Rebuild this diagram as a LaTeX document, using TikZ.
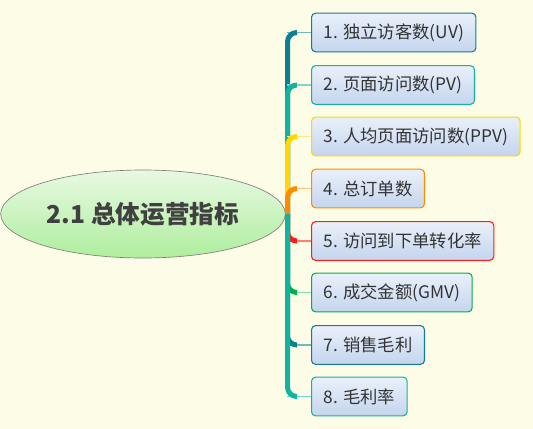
\documentclass[tikz,border=0pt]{standalone}
\usepackage{fontspec}
\setmainfont{Noto Sans CJK SC}
\definecolor{bgcream}{HTML}{FDFCE6}
\definecolor{txtgray}{HTML}{333333}
\definecolor{boxtop}{HTML}{EAF0FA}
\definecolor{boxbot}{HTML}{C4D5EE}
\definecolor{rtop}{HTML}{E8F9E2}
\definecolor{rbot}{HTML}{AEEE9E}
\definecolor{cA}{HTML}{0F7F8F}\definecolor{lA}{HTML}{70B8C2}
\definecolor{cB}{HTML}{14B3A0}\definecolor{lB}{HTML}{80D8CC}
\definecolor{cC}{HTML}{FFD800}\definecolor{lC}{HTML}{FFE680}
\definecolor{cD}{HTML}{FF8C00}\definecolor{lD}{HTML}{FFC27A}
\definecolor{cE}{HTML}{FF1A1A}\definecolor{lE}{HTML}{FF8070}
\definecolor{cF}{HTML}{00B050}\definecolor{lF}{HTML}{80DCA8}
\definecolor{cG}{HTML}{0F7F8F}\definecolor{lG}{HTML}{70B8C2}
\definecolor{cH}{HTML}{14B3A0}\definecolor{lH}{HTML}{70D8C8}
\tikzset{
  topic/.style={draw=#1,line width=0.8pt,rounded corners=3pt,top color=boxtop,bottom color=boxbot,
    minimum height=29pt,inner xsep=9pt,anchor=west,text=txtgray,font=\fontsize{13}{15}\selectfont},
  rootnode/.style={ellipse,draw=gray,line width=0.5pt,top color=rtop,bottom color=rbot,
    minimum width=201pt,minimum height=66pt,text=black!75,font=\fontsize{18.5}{22}\selectfont\bfseries}
}
\usetikzlibrary{shapes.geometric}
\begin{document}
\begin{tikzpicture}[x=0.75pt,y=-0.75pt]
	\fill[bgcream] (0,0) rectangle (533,429);
	\useasboundingbox (0,0) rectangle (533,429);

	% Central topic
	\node[rootnode] (root) at (143,214) {2.1 总体运营指标};
	\coordinate (hub) at (287.5,214);
	\draw[gray,line width=0.6pt] (root.east) -- (hub);

	% Sub-topics
	\foreach \i/\yy/\col/\lite/\txt in {1/32.5/cA/lA/{1. 独立访客数(UV)},2/85/cB/lB/{2. 页面访问数(PV)},
		3/136.5/cC/lC/{3. 人均页面访问数(PPV)},4/188.5/cD/lD/{4. 总订单数},
		5/241/cE/lE/{5. 访问到下单转化率},6/292.5/cF/lF/{6. 成交金额(GMV)},
		7/345/cG/lG/{7. 销售毛利},8/396.5/cH/lH/{8. 毛利率}}
	{
		\node[topic=\col] (b\i) at (311,\yy) {\txt};
		\draw[\lite,line width=1.4pt] ([xshift=-18pt]b\i.west) -- (b\i.west);
		\draw[\col,line width=3.75pt,rounded corners=7pt] (hub) |- ([xshift=-10.6pt]b\i.west);
	}
\end{tikzpicture}
\end{document}
